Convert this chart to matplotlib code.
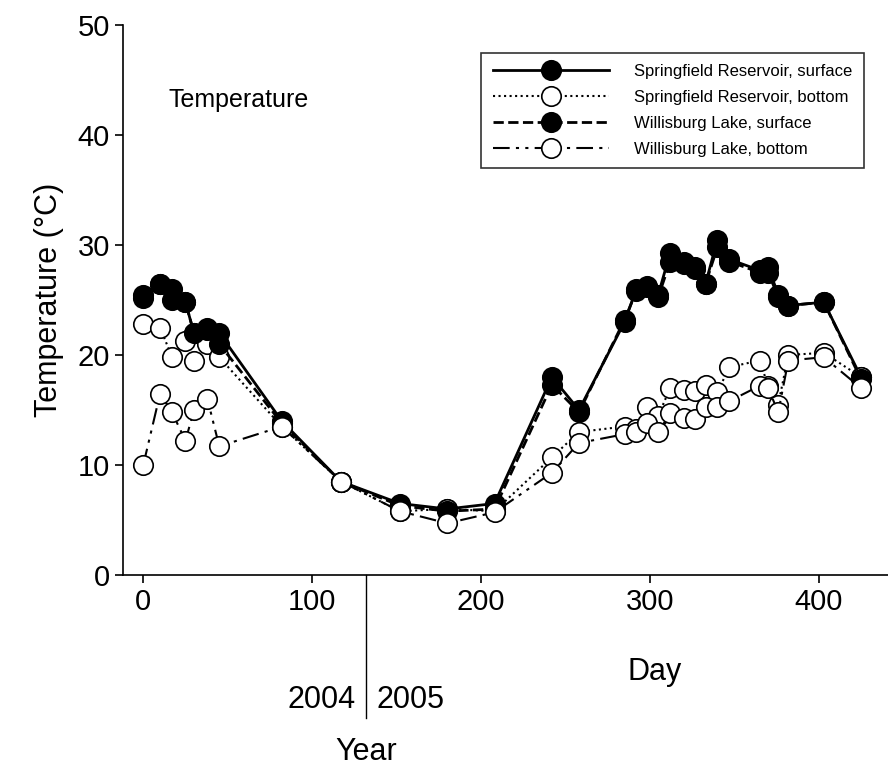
import matplotlib
matplotlib.use("Agg")
import matplotlib.pyplot as plt

days = [0, 10, 17, 25, 30, 38, 45, 82, 117, 152, 180, 208, 242, 258, 285, 292, 298,
        305, 312, 320, 327, 333, 340, 347, 365, 370, 376, 382, 403, 425]

spr_surf = [25.5, 26.5, 26.0, 24.8, 22.0, 22.5, 22.0, 14.0, 8.5, 6.5, 6.0, 6.5, 18.0, 15.0,
            23.0, 26.0, 26.3, 25.5, 29.3, 28.5, 28.0, 26.5, 30.5, 28.7, 27.7, 28.0, 25.5, 24.5, 24.8, 18.0]
spr_bot = [22.8, 22.5, 19.8, 21.3, 19.5, 21.0, 19.8, 13.5, 8.5, 5.8, 6.0, 5.8, 10.7, 13.0,
           13.5, 13.3, 15.3, 14.5, 17.0, 16.8, 16.7, 17.3, 16.6, 18.9, 19.5, 17.2, 15.5, 20.0, 20.2, 18.0]
wil_surf = [25.2, 26.5, 25.0, 24.8, 22.0, 22.3, 21.0, 13.8, 8.5, 6.3, 5.8, 6.0, 17.3, 14.8,
            23.2, 25.8, 26.2, 25.3, 28.5, 28.3, 27.8, 26.5, 29.8, 28.5, 27.5, 27.5, 25.3, 24.5, 24.8, 17.8]
wil_bot = [10.0, 16.5, 14.8, 12.2, 15.0, 16.0, 11.7, 13.5, 8.5, 5.8, 4.7, 5.7, 9.3, 12.0,
           12.8, 13.0, 13.8, 13.0, 14.7, 14.3, 14.2, 15.3, 15.3, 15.8, 17.2, 17.0, 14.8, 19.5, 19.8, 17.0]

plt.rcParams["font.family"] = ["Liberation Sans", "DejaVu Sans"]

fig = plt.figure(figsize=(8.88, 7.73), dpi=100)
ax = fig.add_axes([123 / 888, 1 - 575 / 773, 765 / 888, 550 / 773])

mk = dict(marker="o", markersize=14, markeredgecolor="black", markeredgewidth=1.2, color="black")
ax.plot(days, spr_surf, "-", lw=2, markerfacecolor="black", label="Springfield Reservoir, surface", **mk)
ax.plot(days, spr_bot, ":", lw=1.5, markerfacecolor="white", label="Springfield Reservoir, bottom", **mk)
ax.plot(days, wil_surf, "--", lw=2, markerfacecolor="black", label="Willisburg Lake, surface", **mk)
ax.plot(days, wil_bot, linestyle=(0, (8, 3, 1.5, 3, 1.5, 3)), lw=1.5, markerfacecolor="white",
        label="Willisburg Lake, bottom", **mk)

ax.set_xlim(-12, 441)
ax.set_ylim(0, 50)
ax.set_xticks([0, 100, 200, 300, 400])
ax.set_yticks([0, 10, 20, 30, 40, 50])
ax.tick_params(labelsize=21, direction="out", length=6, width=1.2)
for s in ["top", "right"]:
    ax.spines[s].set_visible(False)
for s in ["left", "bottom"]:
    ax.spines[s].set_linewidth(1.2)
ax.set_ylabel("Temperature (°C)", fontsize=22, labelpad=10)

ax.text(0.06, 0.85, "Temperature", transform=ax.transAxes, fontsize=18)

leg = ax.legend(loc="upper right", bbox_to_anchor=(0.98, 0.965), fontsize=12, frameon=True,
                fancybox=False, edgecolor="black", handlelength=7, markerscale=1.0,
                borderpad=0.7, labelspacing=0.65, handletextpad=1.5)
leg.get_frame().set_linewidth(1.2)

# Day / Year annotations below axis
fig.text(655 / 888, 1 - 672 / 773, "Day", fontsize=22, ha="center", va="center")
fig.text(366 / 888 - 0.012, 1 - 700 / 773, "2004", fontsize=22, ha="right", va="center")
fig.text(366 / 888 + 0.012, 1 - 700 / 773, "2005", fontsize=22, ha="left", va="center")
fig.text(366 / 888, 1 - 752 / 773, "Year", fontsize=22, ha="center", va="center")
fig.add_artist(plt.Line2D([366 / 888, 366 / 888], [1 - 575 / 773, 1 - 718 / 773], color="black", lw=1))

fig.savefig("out.png", dpi=100)
